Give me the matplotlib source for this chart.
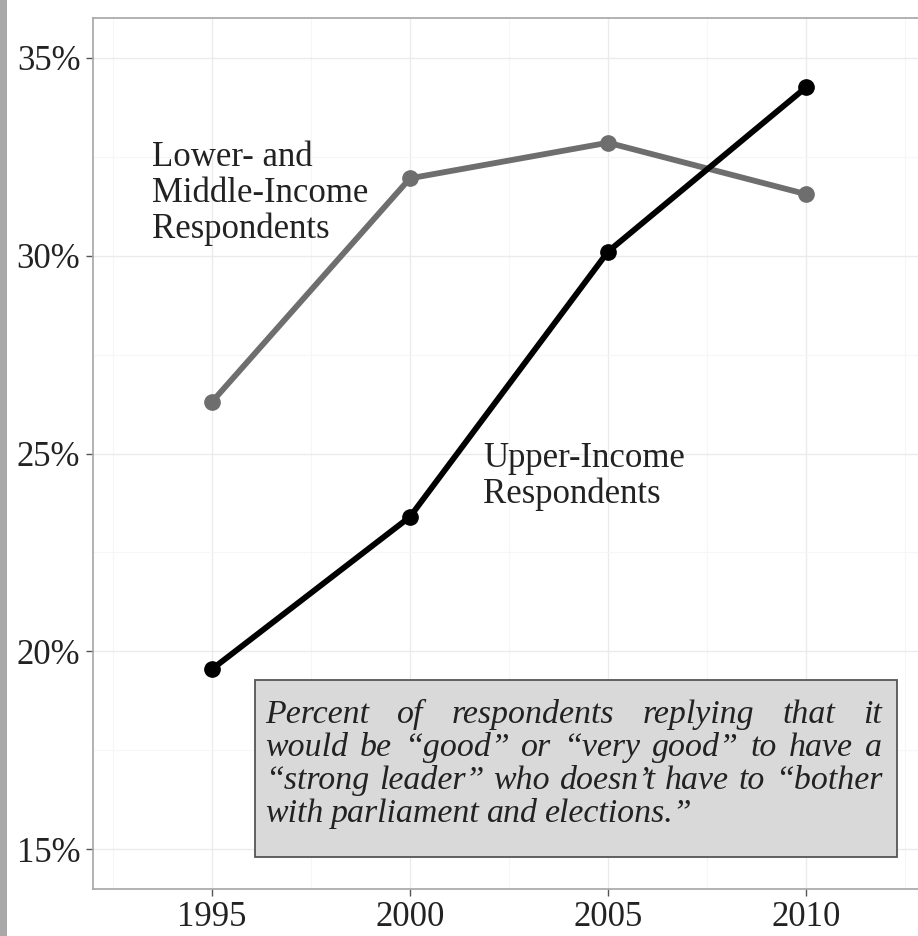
import numpy as np
import matplotlib
matplotlib.use("Agg")
import matplotlib.pyplot as plt
from matplotlib.patches import Rectangle
from matplotlib.transforms import IdentityTransform
from matplotlib.ticker import MultipleLocator, FuncFormatter

# data
years = [1995, 2000, 2005, 2010]
lower_middle = [26.3, 31.95, 32.85, 31.55]
upper = [19.55, 23.4, 30.1, 34.25]

box_lines = [
    "Percent of respondents replying that it",
    "would be \u201cgood\u201d or \u201cvery good\u201d to have a",
    "\u201cstrong leader\u201d who doesn\u2019t have to \u201cbother",
    "with parliament and elections.\u201d",
]

W, H = 918, 936
fig = plt.figure(figsize=(W / 100, H / 100), dpi=100)
fig.patch.set_facecolor("white")

# axes run a bit past the right edge, like the cropped original
ax = fig.add_axes([93 / W, (H - 889) / H, (925 - 93) / W, (889 - 18) / H])
ax.set_xlim(1992, 2013)
ax.set_ylim(14, 36)

ax.xaxis.set_major_locator(MultipleLocator(5))
ax.xaxis.set_minor_locator(MultipleLocator(2.5))
ax.yaxis.set_major_locator(MultipleLocator(5))
ax.yaxis.set_minor_locator(MultipleLocator(2.5))
ax.yaxis.set_major_formatter(FuncFormatter(lambda v, p: "%d%%" % v))
ax.set_xticks(years)

ax.grid(which="major", color="#ebebeb", lw=1.0, zorder=0)
ax.grid(which="minor", color="#f6f6f6", lw=0.8, zorder=0)
ax.set_axisbelow(True)

for s in ax.spines.values():
    s.set_color("#a6a6a6")
    s.set_linewidth(1.2)

ax.tick_params(which="major", length=5, width=1, color="#555555",
               labelsize=25, labelcolor="#222222", pad=4)
ax.tick_params(which="minor", length=0)
for lab in ax.get_xticklabels() + ax.get_yticklabels():
    lab.set_family("Liberation Serif")

ax.plot(years, lower_middle, color="#6e6e6e", lw=4.2, marker="o", ms=11, zorder=3)
ax.plot(years, upper, color="black", lw=4.2, marker="o", ms=11, zorder=4)

ax.text(1993.5, 32.9, "Lower- and\nMiddle-Income\nRespondents",
        family="Liberation Serif", size=25, color="#222222",
        va="top", ha="left", linespacing=1.12)
ax.text(2001.85, 25.3, "Upper-Income\nRespondents",
        family="Liberation Serif", size=25, color="#222222",
        va="top", ha="left", linespacing=1.12)

# left gray strip from the scan
fig.add_artist(Rectangle((0, 0), 7 / W, 1, transform=fig.transFigure,
                         facecolor="#a8a8a8", edgecolor="none"))

# annotation box (pixel coords, top-down measured)
bx0, bx1, by0, by1 = 255, 897, 680, 857
fig.add_artist(Rectangle((bx0 / W, (H - by1) / H), (bx1 - bx0) / W, (by1 - by0) / H,
                         transform=fig.transFigure, facecolor="#d9d9d9",
                         edgecolor="#555555", lw=1.3, zorder=5))

fig.canvas.draw()
r = fig.canvas.get_renderer()
tx0, tx1 = 265, 882
base = [723, 756, 789, 822]

# pick a font size so the widest line fits the box naturally
probe = [fig.text(0, 0, l, family="Liberation Serif", style="italic", size=20)
         for l in box_lines]
natural = max(p.get_window_extent(r).width for p in probe)
for p in probe:
    p.remove()
fs = 20 * (tx1 - tx0) / natural * 0.99

for i, line in enumerate(box_lines):
    words = line.split(" ")
    ts = [fig.text(0, 0, w, transform=IdentityTransform(), family="Liberation Serif",
                   style="italic", size=fs, color="#222222", va="baseline",
                   ha="left", zorder=6) for w in words]
    widths = [t.get_window_extent(r).width for t in ts]
    if i == len(box_lines) - 1:
        sp = fs * 0.3
    else:
        sp = (tx1 - tx0 - sum(widths)) / (len(words) - 1)
    x = tx0
    for t, w in zip(ts, widths):
        t.set_position((x, H - base[i]))
        x += w + sp

fig.savefig("out.png", dpi=100)
